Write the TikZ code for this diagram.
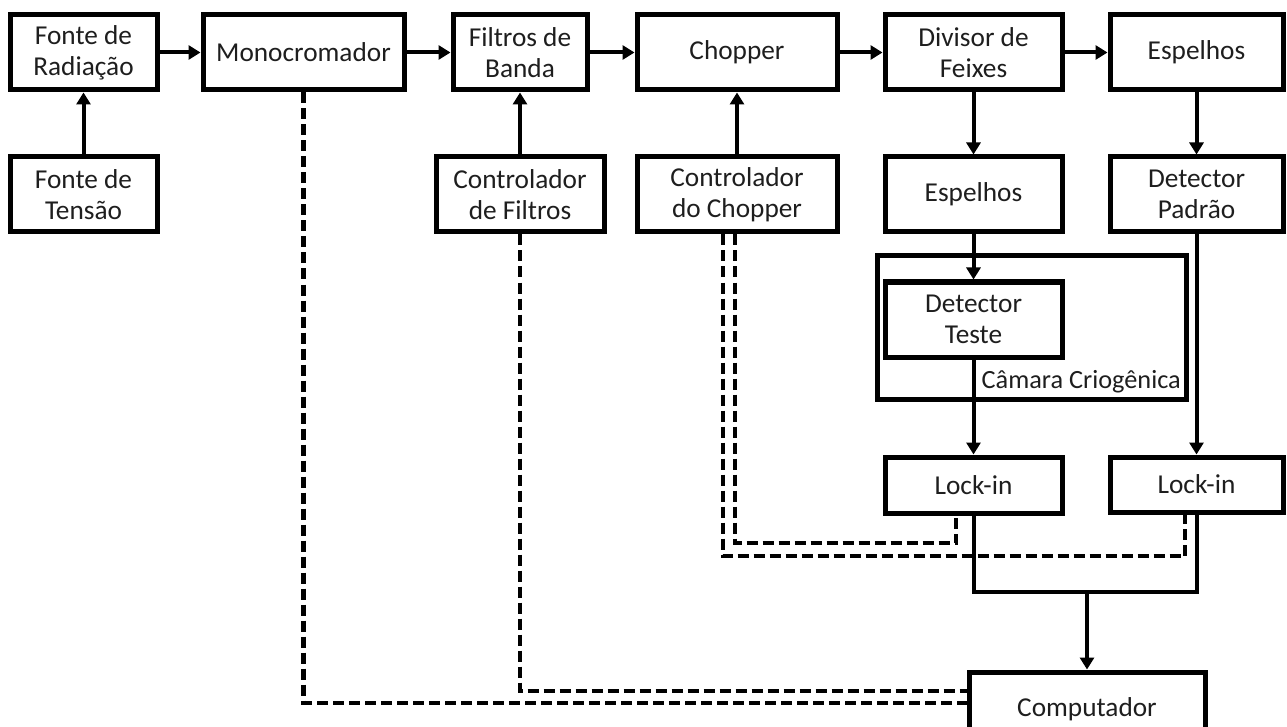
\documentclass[tikz,border=0pt]{standalone}
\usepackage{fontspec}
\setmainfont{Carlito}
\usetikzlibrary{arrows.meta}
\newcommand{\fsz}{\fontsize{27.3}{31}\selectfont}
\newcommand{\lblsz}{\fontsize{26.3}{31}\selectfont}
\definecolor{txt}{HTML}{1E1E1E}
\begin{document}
\begin{tikzpicture}[x=1pt,y=-1pt,
  box/.style={draw, line width=5pt, align=center, inner sep=0pt, minimum height=75pt, font=\fsz, text=txt},
  conn/.style={line width=4pt, -{Triangle[length=12pt,width=14pt]}},
  solidln/.style={line width=4pt},
  dashln/.style={line width=4.5pt, dash pattern=on 11pt off 5pt}]
\useasboundingbox (0,0) rectangle (1287,727);
\clip (0,0) rectangle (1287,727);
% top row
\node[box, minimum width=147pt] (frad) at (83.5,52.5) {Fonte de\\Radiação};
\node[box, minimum width=201pt] (mono) at (303.5,52.5) {Monocromador};
\node[box, minimum width=134pt] (filt) at (520,52.5) {Filtros de\\Banda};
\node[box, minimum width=200pt] (chop) at (737,52.5) {Chopper};
\node[box, minimum width=177pt] (div) at (973.5,52.5) {Divisor de\\Feixes};
\node[box, minimum width=173pt] (espa) at (1196.5,52.5) {Espelhos};
% second row
\node[box, minimum width=147pt] (ften) at (83.5,194.5) {Fonte de\\Tensão};
\node[box, minimum width=168pt] (cfil) at (520,194.5) {Controlador\\de Filtros};
\node[box, minimum width=200pt] (cchop) at (737,194.5) {Controlador\\do Chopper\vphantom{f}};
\node[box, minimum width=177pt] (espb) at (973.5,194.5) {Espelhos};
\node[box, minimum width=173pt] (detp) at (1196.5,194.5) {Detector\\Padrão};
% cryogenic chamber
\node[box, minimum width=309pt, minimum height=143pt] (cam) at (1031.5,327.5) {};
\node[font=\lblsz, text=txt, anchor=base east, inner sep=0pt] (camlbl) at (1181,388) {Câmara Criogênica};
\node[box, minimum width=177pt] (dett) at (973.5,319.5) {Detector\\Teste};
% lock-ins and computer
\node[box, minimum width=177pt, minimum height=56pt] (locka) at (973.5,485) {Lock-in};
\node[box, minimum width=173pt, minimum height=55pt] (lockb) at (1196.5,484.5) {Lock-in};
\node[box, minimum width=236pt] (comp) at (1087,709.5) {Computador};
% solid connectors
\draw[conn] (ften) -- (frad);
\draw[conn] (frad) -- (mono);
\draw[conn] (mono) -- (filt);
\draw[conn] (filt) -- (chop);
\draw[conn] (chop) -- (div);
\draw[conn] (div) -- (espa);
\draw[conn] (cfil) -- (filt);
\draw[conn] (cchop) -- (chop);
\draw[conn] (div) -- (espb);
\draw[conn] (espa) -- (detp);
\draw[conn] (espb) -- (dett);
\draw[conn] (dett) -- (locka);
\draw[conn] (detp) -- (lockb);
\coordinate (jn) at (1087,592);
\draw[solidln] (locka.south) |- (jn) -| (lockb.south);
\draw[conn] (jn) -- (comp);
% dashed connectors
\coordinate (cpa) at (969,691);
\coordinate (cpb) at (969,703);
\draw[dashln] (mono.south) |- (cpb);
\draw[dashln] (cfil.south) |- (cpa);
\coordinate (ca) at (956,543);
\coordinate (cb) at (1185,556);
\draw[dashln] ([xshift=-2pt]cchop.south) |- (ca) -- ([xshift=-17.5pt]locka.south);
\draw[dashln] ([xshift=-14pt]cchop.south) |- (cb) -- ([xshift=-11.5pt]lockb.south);
\end{tikzpicture}
\end{document}
